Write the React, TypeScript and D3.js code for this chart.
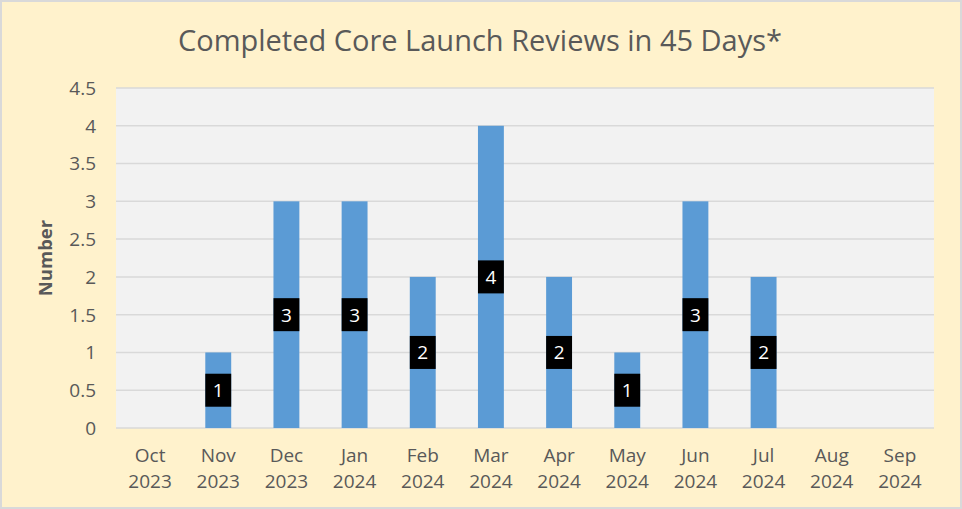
import React from "react";
import * as d3 from "d3";

const months = ["Oct", "Nov", "Dec", "Jan", "Feb", "Mar", "Apr", "May", "Jun", "Jul", "Aug", "Sep"];
const years = ["2023", "2023", "2023", "2024", "2024", "2024", "2024", "2024", "2024", "2024", "2024", "2024"];
const values = [0, 1, 3, 3, 2, 4, 2, 1, 3, 2, 0, 0];
const yTicks = [0, 0.5, 1, 1.5, 2, 2.5, 3, 3.5, 4, 4.5];
const title = "Completed Core Launch Reviews in 45 Days*";
const yTitle = "Number";

export default function App() {
  const W = 962, H = 509;
  const left = 116, right = 934, top = 88, bottom = 428;
  const cats = months.map((m, i) => m + " " + years[i]);
  const x = d3.scaleBand<string>().domain(cats).range([left, right]).paddingInner(0.62).paddingOuter(0.31);
  const y = d3.scaleLinear().domain([0, 4.5]).range([bottom, top]);
  const font = "'Open Sans', sans-serif";
  const txt = "#595959";
  const bw = x.bandwidth();
  return (
    <svg width={W} height={H} style={{ position: "absolute", left: 0, top: 0 }} fontFamily={font}>
      <rect x={1} y={1} width={W - 2} height={H - 2} fill="#FFF2CC" stroke="#D9D9D9" strokeWidth={2} />
      <rect x={left} y={top} width={right - left} height={bottom - top} fill="#F2F2F2" />
      {yTicks.map((t) => (
        <line key={t} x1={left} x2={right} y1={y(t)} y2={y(t)} stroke="#D9D9D9" strokeWidth={1.5} />
      ))}
      {yTicks.map((t) => (
        <text key={"l" + t} x={96} y={y(t)} dy="0.36em" textAnchor="end" fontSize={19} fill={txt}>
          {String(t)}
        </text>
      ))}
      {cats.map((c, i) => {
        const v = values[i];
        const bx = x(c)!;
        return (
          <g key={c}>
            {v > 0 && (
              <rect x={bx} y={y(v)} width={bw} height={y(0) - y(v)} fill="#5B9BD5" />
            )}
            {v > 0 && (
              <g>
                <rect x={bx} y={y(v / 2) - 16.5} width={bw} height={33} fill="#000000" />
                <text x={bx + bw / 2} y={y(v / 2)} dy="0.36em" textAnchor="middle" fontSize={19} fill="#FFFFFF">
                  {String(v)}
                </text>
              </g>
            )}
            <text x={bx + bw / 2} y={462} textAnchor="middle" fontSize={19} fill={txt}>{months[i]}</text>
            <text x={bx + bw / 2} y={488} textAnchor="middle" fontSize={19} fill={txt}>{years[i]}</text>
          </g>
        );
      })}
      <text x={480} y={51} textAnchor="middle" fontSize={29} fill={txt}>{title}</text>
      <text transform={`translate(52, ${(top + bottom) / 2}) rotate(-90)`} textAnchor="middle" fontSize={18.5} fontWeight="bold" fill={txt}>
        {yTitle}
      </text>
    </svg>
  );
}
